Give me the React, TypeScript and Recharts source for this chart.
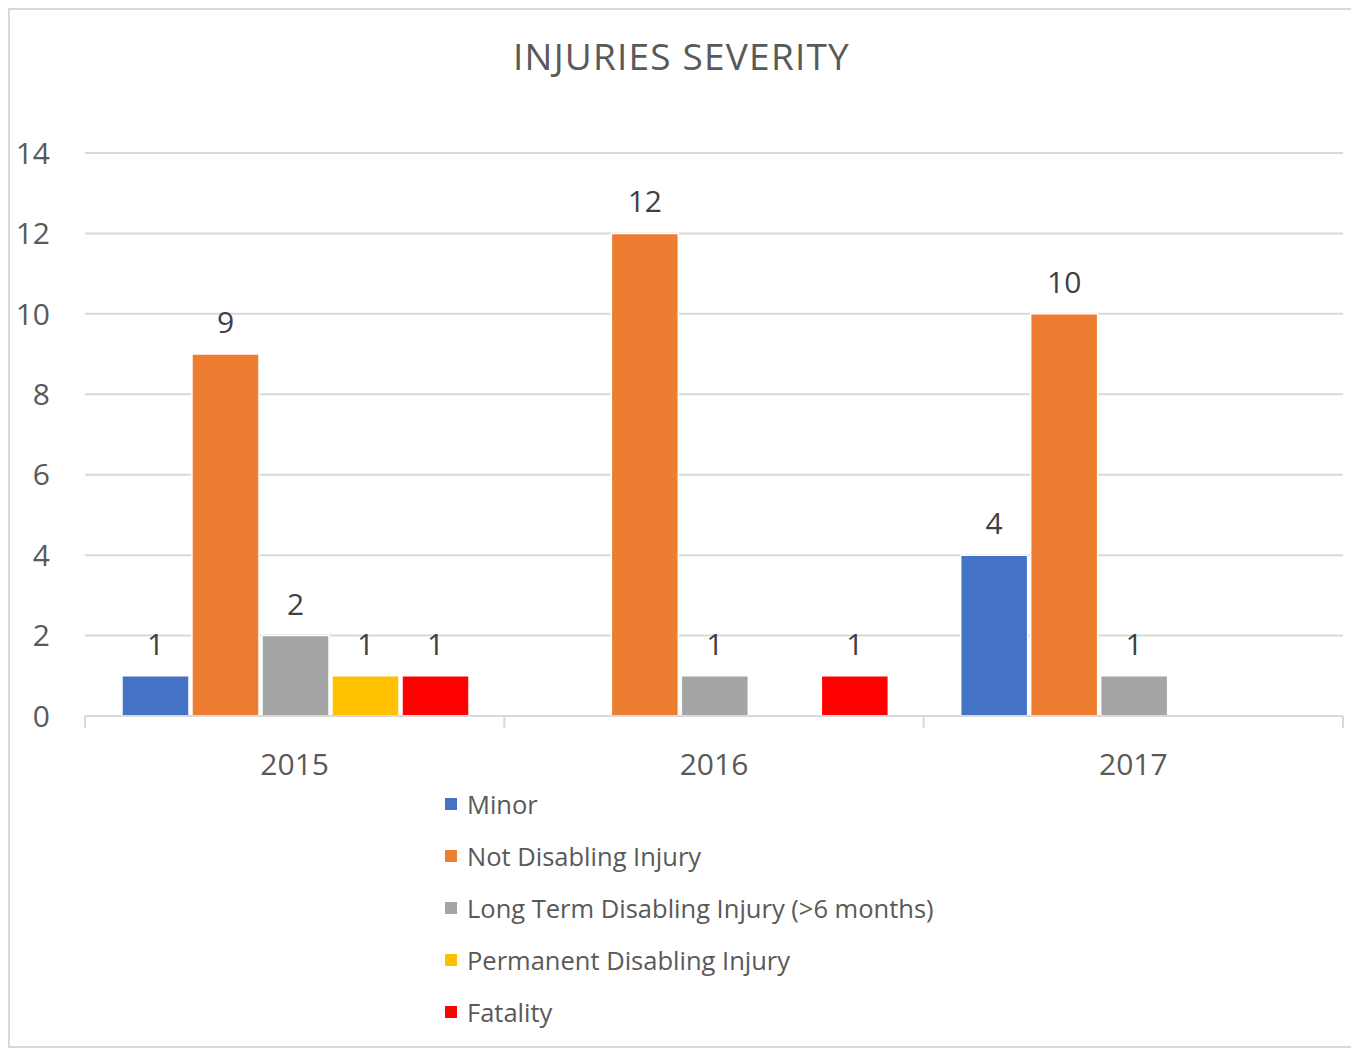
import { BarChart, Bar, XAxis, YAxis, CartesianGrid, Legend, LabelList } from 'recharts';

const years = ['2015', '2016', '2017'];
const minor = [1, null, 4];
const notDisabling = [9, 12, 10];
const longTerm = [2, 1, 1];
const permanent = [1, null, null];
const fatality = [1, 1, null];
const yTicks = [0, 2, 4, 6, 8, 10, 12, 14];

const series = [
  { key: 'minor', name: 'Minor', color: '#4472C4', values: minor },
  { key: 'notDisabling', name: 'Not Disabling Injury', color: '#ED7D31', values: notDisabling },
  { key: 'longTerm', name: 'Long Term Disabling Injury (>6 months)', color: '#A5A5A5', values: longTerm },
  { key: 'permanent', name: 'Permanent Disabling Injury', color: '#FFC000', values: permanent },
  { key: 'fatality', name: 'Fatality', color: '#FF0000', values: fatality },
];

const chartData = years.map((year, i) => {
  const row: Record<string, string | number | null> = { year };
  series.forEach(s => { row[s.key] = s.values[i]; });
  return row;
});

const FONT = '"Open Sans", sans-serif';
const W = 1343;
const H = 1036;
const MARGIN = { top: 143, right: 10, left: 0, bottom: 8 };
const Y_W = 75;
const BAND = (W - MARGIN.left - MARGIN.right - Y_W) / years.length;

// year label plus Excel-style tick marks on the category boundaries
function YearTick(props: any) {
  const { x, y, payload, index } = props;
  const half = BAND / 2;
  return (
    <g>
      <line x1={x - half} x2={x - half} y1={y} y2={y + 12} stroke="#D9D9D9" strokeWidth={2} />
      {index === years.length - 1 && (
        <line x1={x + half} x2={x + half} y1={y} y2={y + 12} stroke="#D9D9D9" strokeWidth={2} />
      )}
      <text x={x} y={y + 48} dy="0.355em" textAnchor="middle" fill="#595959" fontSize={30} fontFamily={FONT}>
        {payload.value}
      </text>
    </g>
  );
}

function LegendBox() {
  return (
    <div style={{ fontFamily: FONT }}>
      {series.map(s => (
        <div key={s.key} style={{ height: 52, display: 'flex', alignItems: 'center' }}>
          <span style={{ width: 12, height: 12, background: s.color, marginRight: 10 }} />
          <span style={{ fontSize: 25.5, color: '#595959', whiteSpace: 'nowrap' }}>{s.name}</span>
        </div>
      ))}
    </div>
  );
}

export default function App() {
  return (
    <div
      style={{
        position: 'relative',
        width: W + 4,
        height: H + 4,
        boxSizing: 'border-box',
        border: '2px solid #D9D9D9',
        background: '#fff',
      }}
    >
      <div
        style={{
          position: 'absolute',
          top: 20,
          left: 0,
          width: '100%',
          textAlign: 'center',
          fontFamily: FONT,
          fontSize: 37,
          color: '#595959',
          letterSpacing: 1.2,
        }}
      >
        INJURIES SEVERITY
      </div>
      <BarChart
        width={W}
        height={H}
        data={chartData}
        margin={MARGIN}
        barCategoryGap={37}
        barGap={3}
      >
        <CartesianGrid vertical={false} stroke="#D9D9D9" strokeWidth={2} />
        <XAxis
          dataKey="year"
          height={62}
          axisLine={{ stroke: '#D9D9D9', strokeWidth: 2 }}
          tickLine={false}
          tickSize={0}
          tickMargin={0}
          tick={<YearTick />}
        />
        <YAxis
          width={Y_W}
          domain={[0, 14]}
          ticks={yTicks}
          axisLine={false}
          tickLine={false}
          tickSize={0}
          tickMargin={35}
          tick={{ fill: '#595959', fontSize: 30, fontFamily: FONT }}
        />
        <Legend
          layout="vertical"
          verticalAlign="bottom"
          content={<LegendBox />}
          wrapperStyle={{ left: 435, width: 'auto' }}
        />
        {series.map(s => (
          <Bar
            key={s.key}
            dataKey={s.key}
            name={s.name}
            fill={s.color}
            stroke="#fff"
            strokeWidth={1.5}
            isAnimationActive={false}
          >
            <LabelList
              dataKey={s.key}
              position="top"
              offset={21}
              fill="#404040"
              fontSize={30}
              fontFamily={FONT}
            />
          </Bar>
        ))}
      </BarChart>
    </div>
  );
}
